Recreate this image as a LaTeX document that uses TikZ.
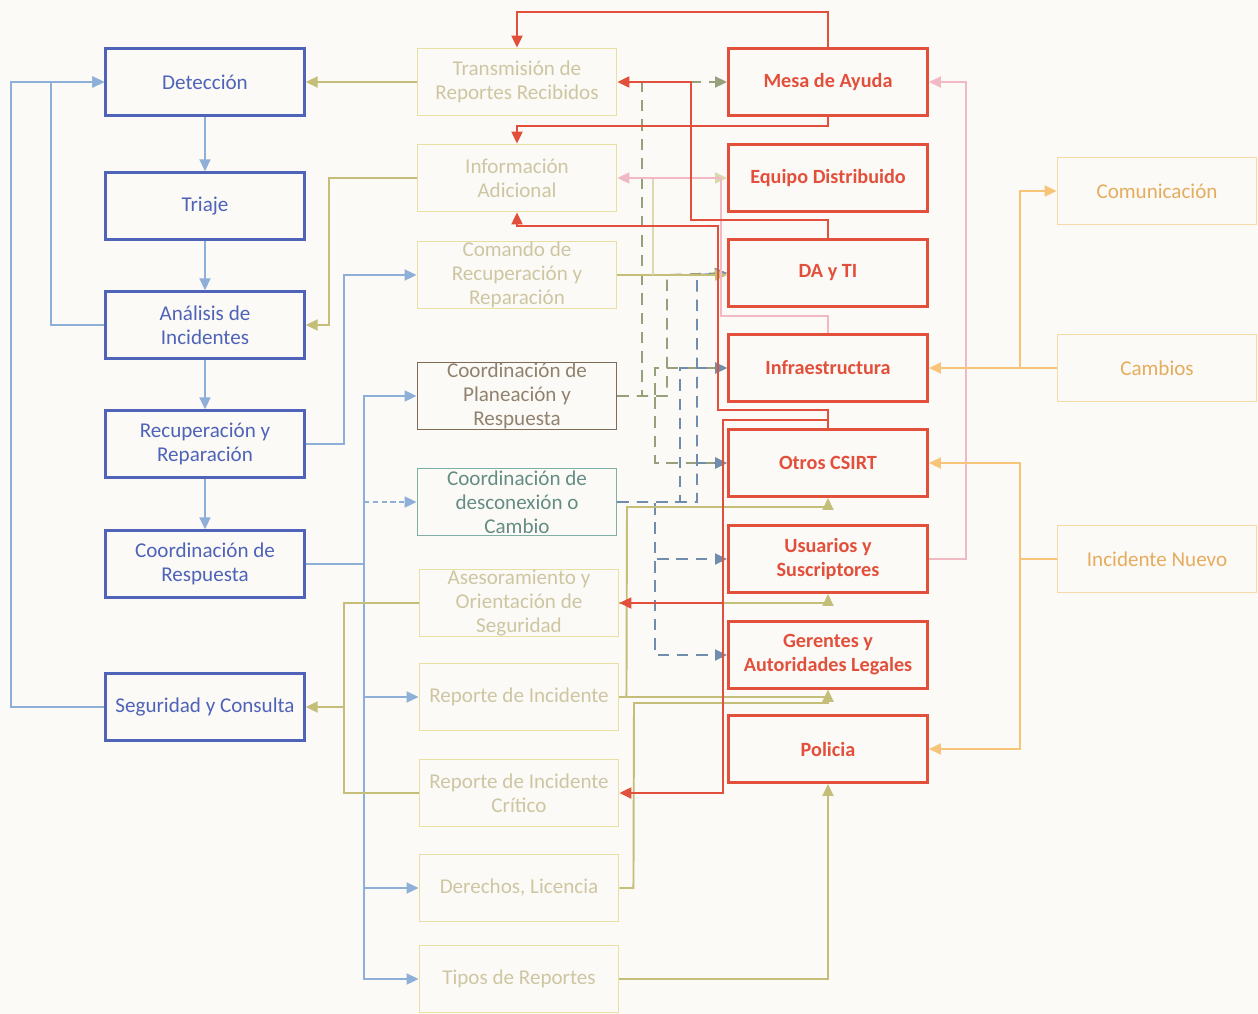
\documentclass[tikz,border=0pt]{standalone}
\usepackage{fontspec}
\setmainfont{Carlito}
\usetikzlibrary{arrows.meta}
\definecolor{azul}{HTML}{4F63B8}
\definecolor{celeste}{HTML}{8EB0D8}
\definecolor{rojo}{HTML}{E2503C}
\definecolor{oliva}{HTML}{C4BE78}
\definecolor{olivaf}{HTML}{9BA865}
\definecolor{palido}{HTML}{EADFA2}
\definecolor{txtpal}{HTML}{CEC6A2}
\definecolor{rosa}{HTML}{F0B9C4}
\definecolor{naranja}{HTML}{F8C47A}
\definecolor{naranjab}{HTML}{F8DAA6}
\definecolor{naranjat}{HTML}{E6AC5E}
\definecolor{cafe}{HTML}{7E6C57}
\definecolor{verdeazul}{HTML}{7FB0A6}
\definecolor{grisol}{HTML}{97A07C}
\definecolor{fondo}{HTML}{FBFAF6}

\begin{document}
\begin{tikzpicture}[x=0.02cm,y=-0.02cm,
  font=\fontsize{12}{13.6}\selectfont,
  caja/.style={draw,line width=1.1pt,minimum width=3.98cm,minimum height=1.34cm,
    inner sep=0pt,align=center},
  azulbox/.style={caja,draw=azul,text=azul,line width=1.4pt},
  medbox/.style={caja,draw=palido,text=txtpal},
  rojobox/.style={caja,draw=rojo,text=rojo,line width=1.7pt,
    font=\fontsize{11.5}{13.6}\selectfont\bfseries},
  narbox/.style={caja,draw=naranjab,text=naranjat},
  punta/.style={-{Triangle[length=2.4mm,width=2.2mm]}},
  barr/.style={punta,celeste,line width=1.1pt},
  yarr/.style={punta,oliva,line width=1.1pt},
  rarr/.style={punta,rojo,line width=1.3pt},
  parr/.style={punta,rosa,line width=1.1pt},
  oarr/.style={punta,naranja,line width=1.1pt},
  darra/.style={punta,grisol,line width=1.1pt,dash pattern=on 6.5pt off 4.5pt},
  darrb/.style={punta,celeste!80!black,line width=1.1pt,dash pattern=on 6.5pt off 4.5pt}]
\fill[fondo] (0,0) rectangle (1258,1014);

% columna izquierda
\node[azulbox] (det)  at (205,82)  {Detección};
\node[azulbox] (tri)  at (205,206) {Triaje};
\node[azulbox] (ana)  at (205,325) {Análisis de\\Incidentes};
\node[azulbox] (rec)  at (205,444) {Recuperación y\\Reparación};
\node[azulbox] (cres) at (205,564) {Coordinación de\\Respuesta};
\node[azulbox] (seg)  at (205,707) {Seguridad y Consulta};

% columna central
\node[medbox] (trans) at (517,82)  {Transmisión de\\Reportes Recibidos};
\node[medbox] (info)  at (517,178) {Información\\Adicional};
\node[medbox] (cmd)   at (517,275) {Comando de\\Recuperación y\\Reparación};
\node[medbox,draw=cafe,text=cafe!85] (plan) at (517,396)
  {Coordinación de\\Planeación y\\Respuesta};
\node[medbox,draw=verdeazul,text=verdeazul!80!black] (desc) at (517,502)
  {Coordinación de\\desconexión o\\Cambio};
\node[medbox] (ases) at (519,603) {Asesoramiento y\\Orientación de\\Seguridad};
\node[medbox] (rep)  at (519,697) {Reporte de Incidente};
\node[medbox] (repc) at (519,793) {Reporte de Incidente\\Crítico};
\node[medbox] (der)  at (519,888) {Derechos, Licencia};
\node[medbox] (tip)  at (519,979) {Tipos de Reportes};

% columna roja
\node[rojobox] (mesa)   at (828,82)  {Mesa de Ayuda};
\node[rojobox] (equipo) at (828,178) {Equipo Distribuido};
\node[rojobox] (dati)   at (828,273) {DA y TI};
\node[rojobox] (infra)  at (828,368) {Infraestructura};
\node[rojobox] (otros)  at (828,463) {Otros CSIRT};
\node[rojobox] (usu)    at (828,559) {Usuarios y\\Suscriptores};
\node[rojobox] (ger)    at (828,655) {Gerentes y\\Autoridades Legales};
\node[rojobox] (pol)    at (828,749) {Policia};

% columna derecha
\node[narbox] (com) at (1157,191) {Comunicación};
\node[narbox] (cam) at (1157,368) {Cambios};
\node[narbox] (inc) at (1157,559) {Incidente Nuevo};

% flujo principal
\draw[barr] (det) -- (tri);
\draw[barr] (tri) -- (ana);
\draw[barr] (ana) -- (rec);
\draw[barr] (rec) -- (cres);
\draw[barr] (ana.west) -- ++(-53,0) |- (det.west);
\draw[barr] (seg.west) -- ++(-93,0) |- (det.west);
\draw[barr] (rec.east) -- ++(38,0) |- (cmd.west);
\coordinate (bus) at (364,564);
\draw[celeste,line width=1.1pt] (cres.east) -- (bus);
\draw[barr] (bus) |- (plan.west);
\draw[barr,dash pattern=on 3pt off 2pt] (desc.west -| bus) -- (desc.west);
\draw[barr] (bus) |- (rep.west);
\draw[barr] (bus) |- (der.west);
\draw[barr] (bus) |- (tip.west);

% retorno a la izquierda
\draw[yarr] (trans.west) -- (det.east);
\draw[yarr] (info.west) -- ++(-88,0) |- (ana.east);
\coordinate (ysg) at (344,603);
\draw[oliva,line width=1.1pt] (ases.west) -- (ysg) |- (repc.west);
\draw[yarr] (seg.east -| ysg) -- (seg.east);

% lineas discontinuas
\draw[darra] (plan.east) -| (642,82) -- (mesa.west);
\draw[darra] (plan.east) -| (667,275) -- (dati.west);
\draw[darra] (plan.east) -| (655,368) -- (infra.west);
\draw[darra] (plan.east) -| (655,463) -- (otros.west);
\draw[darrb] (desc.east) -| (680,368) -- (infra.west);
\draw[darrb] (desc.east) -| (697,275) -- (dati.west);
\draw[darrb] (desc.east) -| (697,463) -- (otros.west);
\draw[darrb] (desc.east) -| (655,559) -- (usu.west);
\draw[darrb] (desc.east) -| (655,655) -- (ger.west);

% hacia la columna roja
\draw[yarr] (cmd.east) -- (cmd.east -| dati.west);
\draw[yarr,oliva!60] (653,275) |- (equipo.west);
\draw[yarr] (ases.east) -| (usu.south);
\draw[yarr] (rep.east) -- ++(7,0) -- (627,507) -| (otros.south);
\draw[yarr] (rep.east) -| (ger.south);
\draw[yarr] (der.east) -- ++(14,0) -- (634,703) -| (ger.south);
\draw[yarr] (tip.east) -| (pol.south);

% rosa
\draw[parr] (infra.north) |- (721,316) |- (info.east);
\draw[parr] (usu.east) -- ++(37,0) |- (mesa.east);

% rojo
\draw[rarr] (mesa.north) -- ++(0,-35) -| (trans.north);
\draw[rarr] (mesa.south) -- ++(0,9) -| (info.north);
\draw[rarr] (dati.north) |- (691,220) |- (trans.east);
\draw[rarr] (otros.north) |- (718,410) -- (718,226) -| (info.south);
\draw[rarr] (otros.north) |- (723,420) |- (repc.east);
\draw[rarr] (723,603) -- (ases.east);

% naranja
\coordinate (oj) at (1020,368);
\coordinate (nj) at (1020,559);
\draw[oarr] (cam.west) -- (infra.east);
\draw[oarr] (oj) |- (com.west);
\draw[naranja,line width=1.1pt] (inc.west) -- (nj);
\draw[oarr] (nj) |- (otros.east);
\draw[oarr] (nj) |- (pol.east);
\end{tikzpicture}
\end{document}
